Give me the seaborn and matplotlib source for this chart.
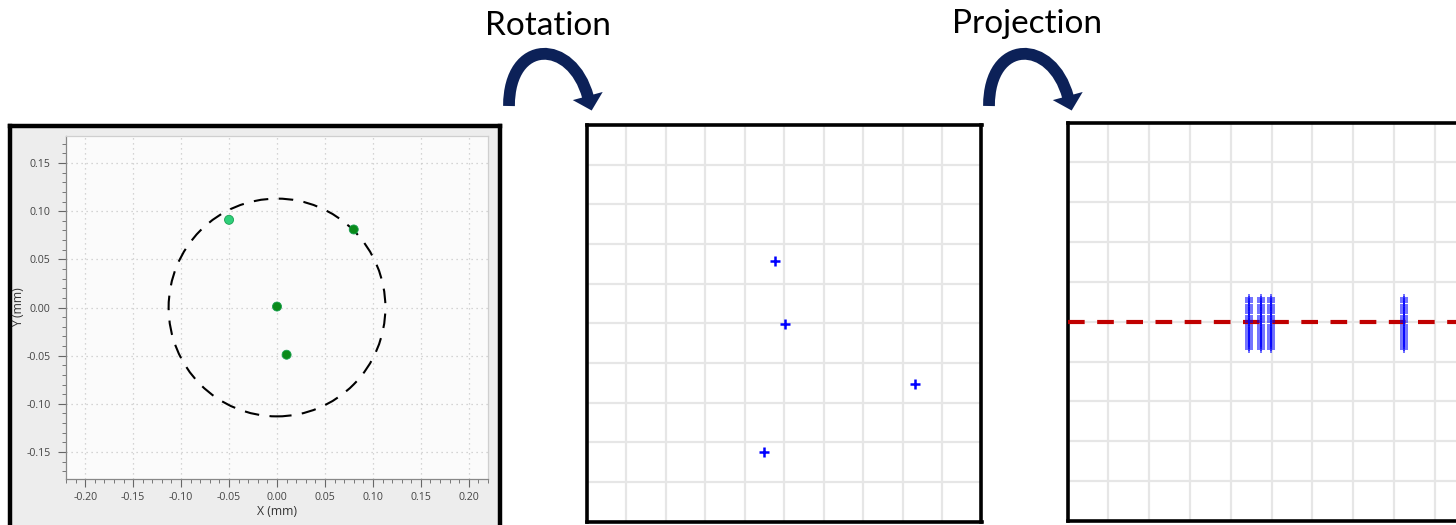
import numpy as np
import pandas as pd
import matplotlib
matplotlib.use("Agg")
import matplotlib.pyplot as plt
import seaborn as sns
from matplotlib.patches import Circle, PathPatch, Polygon
from matplotlib.path import Path
from matplotlib.ticker import MultipleLocator, FixedLocator

# ---------------- data ----------------
orig_x = [-0.05, 0.08, 0.0, 0.01]
orig_y = [0.091, 0.081, 0.001, -0.049]
orig_kind = ["light", "dark", "dark", "dark"]
circle_radius = 0.113
x_ticks = [-0.20, -0.15, -0.10, -0.05, 0.00, 0.05, 0.10, 0.15, 0.20]
y_ticks = [-0.15, -0.10, -0.05, 0.00, 0.05, 0.10, 0.15]

rot_x = [4.78, 5.03, 8.32, 4.49]
rot_y = [6.56, 4.97, 3.46, 1.75]

proj_cols = [4.46, 4.74, 4.98, 8.25]
proj_spread = [4.31, 4.37, 4.42, 4.47, 4.52, 4.57, 4.62, 4.67, 4.72, 4.78,
               4.83, 4.88, 4.93, 4.99, 5.04, 5.10, 5.15, 5.21, 5.26, 5.32,
               5.37, 5.43, 5.49, 5.55, 5.60]
proj_line_y = 5.0

step_titles = ["Rotation", "Projection"]

# ---------------- setup ----------------
sns.set_theme(style="white")
plt.rcParams["font.family"] = ["Open Sans", "DejaVu Sans"]

W, H = 1456, 525
fig = plt.figure(figsize=(W / 100, H / 100), dpi=100)
fig.patch.set_facecolor("white")


def box(x0, y0, x1, y1):
    return [x0 / W, 1 - y1 / H, (x1 - x0) / W, (y1 - y0) / H]


# ---------------- panel 1 ----------------
outer = fig.add_axes(box(9.5, 126, 500, 600))
outer.set_facecolor("#ededed")
outer.set_xticks([]); outer.set_yticks([])
for s in outer.spines.values():
    s.set_color("black"); s.set_linewidth(3.2)

ax1 = fig.add_axes(box(66, 136, 488, 479))
ax1.set_facecolor("#fbfbfb")
df1 = pd.DataFrame({"x": orig_x, "y": orig_y, "kind": orig_kind})
sns.scatterplot(data=df1, x="x", y="y", hue="kind",
                palette={"light": "#2fcf7a", "dark": "#0a8a1a"},
                s=42, edgecolor="#17a050", linewidth=0.6,
                legend=False, ax=ax1, zorder=4)
ax1.add_patch(Circle((0, 0), circle_radius, fill=False, ec="black", lw=1.5,
                     ls=(0, (7, 5)), zorder=3))
ax1.set_xlim(-0.22, 0.22)
ax1.set_ylim(-0.178, 0.178)
ax1.xaxis.set_major_locator(FixedLocator(x_ticks))
ax1.yaxis.set_major_locator(FixedLocator(y_ticks))
ax1.set_xticklabels([f"{v:.2f}" for v in x_ticks])
ax1.set_yticklabels([f"{v:.2f}" for v in y_ticks])
ax1.xaxis.set_minor_locator(MultipleLocator(0.01))
ax1.yaxis.set_minor_locator(MultipleLocator(0.01))
ax1.tick_params(which="major", direction="out", length=6, width=0.8,
                color="#666666", labelsize=7.6, labelcolor="#444444",
                bottom=True, left=True, pad=5)
ax1.tick_params(axis="x", which="major", pad=3.5)
ax1.tick_params(which="minor", direction="out", length=3, width=0.7,
                color="#777777", bottom=True, left=True)
ax1.grid(True, which="major", ls=(0, (1, 3)), color="#c8c8c8", lw=0.9)
ax1.set_axisbelow(True)
for k, s in ax1.spines.items():
    s.set_linewidth(0.9)
    s.set_color("#888888" if k in ("left", "bottom") else "#cfcfcf")
ax1.set_xlabel("X (mm)", fontsize=8.8, color="#333333")
ax1.set_ylabel("Y (mm)", fontsize=8.8, color="#333333")
ax1.xaxis.set_label_coords(0.5, -0.077)
ax1.yaxis.set_label_coords(-0.097, 0.5)

# ---------------- panel 2 ----------------
def grid_axes(rect):
    ax = fig.add_axes(rect)
    ax.set_facecolor("white")
    ax.set_xlim(0, 10); ax.set_ylim(0, 10)
    ax.xaxis.set_major_locator(MultipleLocator(1))
    ax.yaxis.set_major_locator(MultipleLocator(1))
    ax.tick_params(length=0, labelbottom=False, labelleft=False)
    ax.grid(True, color="#e6e6e6", lw=1.6)
    ax.set_axisbelow(True)
    for s in ax.spines.values():
        s.set_color("black"); s.set_linewidth(2.6)
    return ax

ax2 = grid_axes(box(586.5, 125, 981.5, 521.5))
df2 = pd.DataFrame({"x": rot_x, "y": rot_y})
sns.scatterplot(data=df2, x="x", y="y", marker="+", color="#0000ff",
                s=45, linewidth=1.8, ax=ax2, zorder=4)
ax2.set_xlabel(""); ax2.set_ylabel("")

# ---------------- panel 3 ----------------
ax3 = grid_axes(box(1067.5, 122.5, 1475.5, 521))
df3 = pd.DataFrame([(cx, yy) for cx in proj_cols for yy in proj_spread],
                   columns=["x", "y"])
ax3.axhline(proj_line_y, color="#c00000", lw=3, dashes=(4, 3), zorder=3)
sns.scatterplot(data=df3, x="x", y="y", marker="+", color="#0000ff",
                s=36, linewidth=1.3, alpha=0.6, ax=ax3, zorder=4)
ax3.set_xlabel(""); ax3.set_ylabel("")

# ---------------- arrows & titles ----------------
def px(p):
    return (p[0] / W, 1 - p[1] / H)

arrow_color = "#0c2158"
for dx in (0, 480):
    P0 = np.array([509.0 + dx, 106.0])
    P1 = np.array([509.0 + dx, 38.0])
    P2 = np.array([572.0 + dx, 38.0])
    P3 = np.array([588.0 + dx, 97.0])
    path = Path([px(P0), px(P1), px(P2), px(P3)],
                [Path.MOVETO, Path.CURVE4, Path.CURVE4, Path.CURVE4])
    fig.patches.append(PathPatch(path, transform=fig.transFigure, fill=False,
                                 ec=arrow_color, lw=8.5, capstyle="butt"))
    d = (P3 - P2) / np.linalg.norm(P3 - P2)
    n = np.array([-d[1], d[0]])
    base = P3 - d * 1.0
    tip = P3 + d * 14.0
    head = [px(base + n * 15.5), px(tip), px(base - n * 15.5)]
    fig.patches.append(Polygon(head, closed=True, transform=fig.transFigure,
                               fc=arrow_color, ec="none"))

fig.text(548 / W, 1 - 35 / H, step_titles[0], ha="center", va="baseline",
         fontsize=24, color="black", family=["Lato", "DejaVu Sans"])
fig.text(1027 / W, 1 - 33 / H, step_titles[1], ha="center", va="baseline",
         fontsize=24, color="black", family=["Lato", "DejaVu Sans"])

fig.savefig("out.png", dpi=100, facecolor="white")
